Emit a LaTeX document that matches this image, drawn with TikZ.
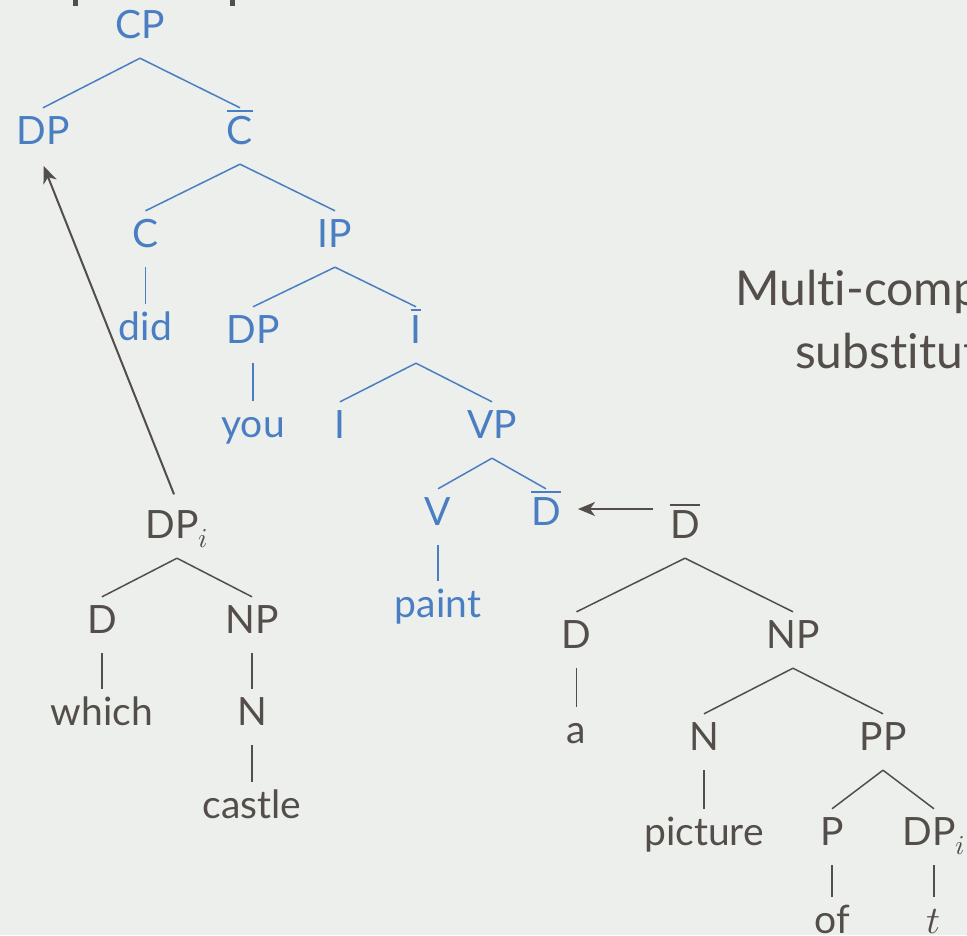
\documentclass[tikz,border=0pt]{standalone}
\usepackage{fontspec}
\usepackage{unicode-math}
\setmainfont{Lato}[Ligatures=NoCommon]
\setmathfont{Latin Modern Math}
\usetikzlibrary{arrows.meta,calc}
\definecolor{slidebg}{HTML}{EDEFEC}
\definecolor{treeblue}{HTML}{4A7EC3}
\definecolor{ink}{HTML}{534E4A}
% category label with a bar over it (X-bar level)
\newcommand{\barcat}[1]{\vbox{\hrule height 1.6pt\kern 4pt\hbox{#1}}}

\begin{document}
\begin{tikzpicture}[x=1pt,y=-1pt,
  cat/.style={font=\fontsize{39}{44}\selectfont, text height=28pt, text depth=12pt,
              inner ysep=8pt, inner xsep=2pt, anchor=base},
  bl/.style={cat, text=treeblue},
  gr/.style={cat, text=ink},
  bedge/.style={treeblue, line width=1.5pt},
  gedge/.style={ink, line width=1.5pt},
  move/.style={ink, line width=2pt, -{Stealth[length=17pt,width=14pt,inset=5pt]}},
  heading/.style={anchor=base west, text=ink, inner sep=0pt, font=\fontsize{48}{58}\selectfont}
]
\fill[slidebg] (0,0) rectangle (967,935);
\useasboundingbox (0,0) rectangle (967,935);

\begin{scope}
\clip (0,0) rectangle (967,935);

% descenders of the line above
\fill[ink] (73,0) rectangle (77.5,6);
\fill[ink] (230,0) rectangle (234.5,6);

% side heading
\node[heading] (head1) at (735,305) {Multi-comp};
\node[heading] (head2) at (795,368) {substitut};

% main tree (blue)
\node[bl] (cp)    at (140,38)  {CP};
\node[bl] (dp)    at (43,144)  {DP};
\node[bl] (cbar)  at (240,144) {\barcat{C}};
\node[bl] (c)     at (145.5,247) {C};
\node[bl] (ip)    at (335,247) {IP};
\node[bl] (did)   at (145.5,340) {did};
\node[bl] (dpy)   at (253,343) {DP};
\node[bl] (ibar)  at (416,343) {\barcat{I}};
\node[bl] (you)   at (253,437) {you};
\node[bl] (i)     at (340,438) {I};
\node[bl] (vp)    at (492,438) {VP};
\node[bl] (v)     at (438,525) {V};
\node[bl] (dbarb) at (546,525) {\barcat{D}};
\node[bl] (paint) at (438,617) {paint};

\draw[bedge] (cp.south) -- (dp.north);
\draw[bedge] (cp.south) -- (cbar.north);
\draw[bedge] (cbar.south) -- (c.north);
\draw[bedge] (cbar.south) -- (ip.north);
\draw[bedge] (c.south) -- (did.north);
\draw[bedge] (ip.south) -- (dpy.north);
\draw[bedge] (ip.south) -- (ibar.north);
\draw[bedge] (dpy.south) -- (you.north);
\draw[bedge] (ibar.south) -- (i.north);
\draw[bedge] (ibar.south) -- (vp.north);
\draw[bedge] (vp.south) -- (v.north);
\draw[bedge] (vp.south) -- (dbarb.north);
\draw[bedge] (v.south) -- (paint.north);

% wh-phrase (grey)
\node[gr] (dpi)    at (177,538) {DP$_i$};
\node[gr] (d1)     at (102,633) {D};
\node[gr] (np1)    at (252,633) {NP};
\node[gr] (which)  at (102,725) {which};
\node[gr] (n1)     at (252,725) {N};
\node[gr] (castle) at (252,818) {castle};

\draw[gedge] (dpi.south) -- (d1.north);
\draw[gedge] (dpi.south) -- (np1.north);
\draw[gedge] (d1.south) -- (which.north);
\draw[gedge] (np1.south) -- (n1.north);
\draw[gedge] (n1.south) -- (castle.north);

% substituted D-bar tree (grey)
\node[gr] (dbarg)   at (685,538) {\barcat{D}};
\node[gr] (d2)      at (576.5,648) {D};
\node[gr] (np2)     at (793,648) {NP};
\node[gr] (a)       at (576.5,743) {a};
\node[gr] (n2)      at (704,750) {N};
\node[gr] (pp)      at (883,750) {PP};
\node[gr] (picture) at (704,845) {picture};
\node[gr] (p)       at (832,845) {P};
\node[gr] (dpt)     at (934,845) {DP$_i$};
\node[gr] (of)      at (832,933) {of};
\node[gr] (t)       at (934,933) {$t$};

\draw[gedge] (dbarg.south) -- (d2.north);
\draw[gedge] (dbarg.south) -- (np2.north);
\draw[gedge] (d2.south) -- (a.north);
\draw[gedge] (np2.south) -- (n2.north);
\draw[gedge] (np2.south) -- (pp.north);
\draw[gedge] (n2.south) -- (picture.north);
\draw[gedge] (pp.south) -- (p.north);
\draw[gedge] (pp.south) -- (dpt.north);
\draw[gedge] (p.south) -- (of.north);
\draw[gedge] (dpt.south) -- (t.north);

% movement and substitution arrows
\draw[move, shorten <=8pt, shorten >=2pt] (dpi.north) -- (dp.south);
\draw[move] ($(dbarg.base)+(-32,-29)$) -- ($(dbarb.base)+(32,-16)$);
\end{scope}
\end{tikzpicture}
\end{document}
